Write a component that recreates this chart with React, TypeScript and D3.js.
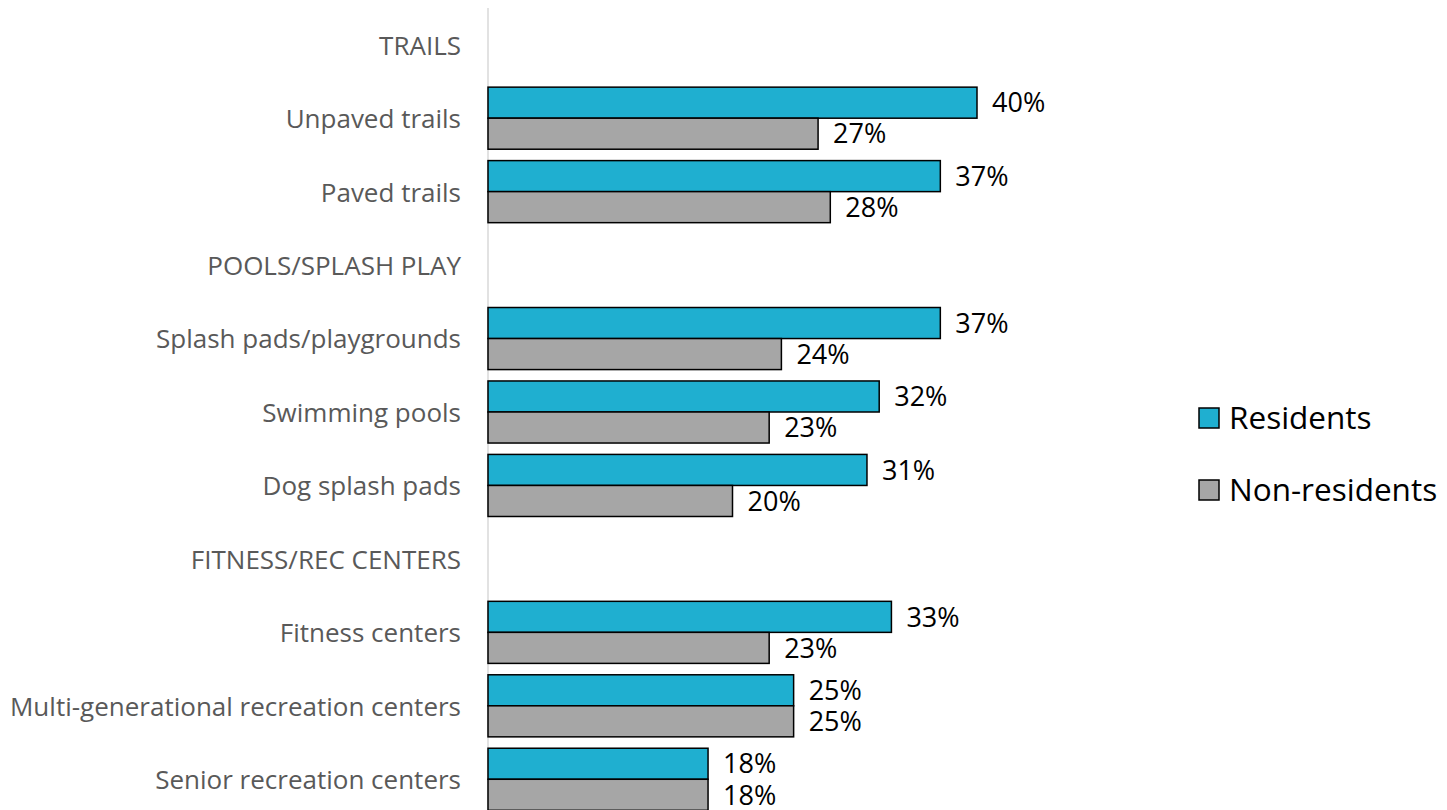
import { useEffect, useRef } from "react";
import * as d3 from "d3";

const categories = [
  "TRAILS",
  "Unpaved trails",
  "Paved trails",
  "POOLS/SPLASH PLAY",
  "Splash pads/playgrounds",
  "Swimming pools",
  "Dog splash pads",
  "FITNESS/REC CENTERS",
  "Fitness centers",
  "Multi-generational recreation centers",
  "Senior recreation centers",
];
const residents = [null, 40, 37, null, 37, 32, 31, null, 33, 25, 18];
const nonResidents = [null, 27, 28, null, 24, 23, 20, null, 23, 25, 18];
const seriesNames = ["Residents", "Non-residents"];
const colors = ["#1fafd0", "#a6a6a6"];

const W = 1447;
const H = 810;
const FONT = "'Open Sans', sans-serif";

const App = () => {
  const svgRef = useRef<SVGSVGElement>(null);

  useEffect(() => {
    const svg = d3.select(svgRef.current);
    svg.selectAll("*").remove();

    const x = d3.scaleLinear().domain([0, 40]).range([488, 977]);
    const y = d3
      .scaleBand<string>()
      .domain(categories)
      .range([8, 816])
      .paddingInner(0.155)
      .paddingOuter(0.0775);
    const barH = y.bandwidth() / 2;

    // axis line
    svg.append("line")
      .attr("x1", x(0)).attr("x2", x(0))
      .attr("y1", 8).attr("y2", H)
      .attr("stroke", "#d9d9d9")
      .attr("stroke-width", 1.5);

    // category labels
    svg.append("g")
      .selectAll("text")
      .data(categories)
      .join("text")
      .attr("x", 461)
      .attr("y", (d) => y(d)! + y.bandwidth() / 2)
      .attr("dy", "0.38em")
      .attr("text-anchor", "end")
      .attr("font-family", FONT)
      .attr("font-size", 26)
      .attr("fill", "#595959")
      .text((d) => d);

    [residents, nonResidents].forEach((vals, s) => {
      const rows = categories
        .map((c, i) => ({ c, v: vals[i] }))
        .filter((d) => d.v !== null) as { c: string; v: number }[];

      const g = svg.append("g");
      g.selectAll("rect")
        .data(rows)
        .join("rect")
        .attr("x", x(0))
        .attr("y", (d) => y(d.c)! + s * barH)
        .attr("width", (d) => x(d.v) - x(0))
        .attr("height", barH)
        .attr("fill", colors[s])
        .attr("stroke", "#000")
        .attr("stroke-width", 1.5);

      g.selectAll("text")
        .data(rows)
        .join("text")
        .attr("x", (d) => x(d.v) + 15)
        .attr("y", (d) => y(d.c)! + s * barH + barH / 2)
        .attr("dy", "0.36em")
        .attr("font-family", FONT)
        .attr("font-size", 27)
        .attr("fill", "#000")
        .text((d) => `${d.v}%`);
    });

    // legend
    const legend = svg.append("g");
    seriesNames.forEach((name, i) => {
      const ly = 418 + i * 72;
      legend.append("rect")
        .attr("x", 1199).attr("y", ly - 10)
        .attr("width", 20).attr("height", 20)
        .attr("fill", colors[i])
        .attr("stroke", "#000")
        .attr("stroke-width", 1.5);
      legend.append("text")
        .attr("x", 1229).attr("y", ly)
        .attr("dy", "0.36em")
        .attr("font-family", FONT)
        .attr("font-size", 31.5)
        .attr("fill", "#000")
        .text(name);
    });
  }, []);

  return (
    <svg
      ref={svgRef}
      width={W}
      height={H}
      style={{ position: "absolute", left: 0, top: 0, background: "#fff" }}
    />
  );
};

export default App;
